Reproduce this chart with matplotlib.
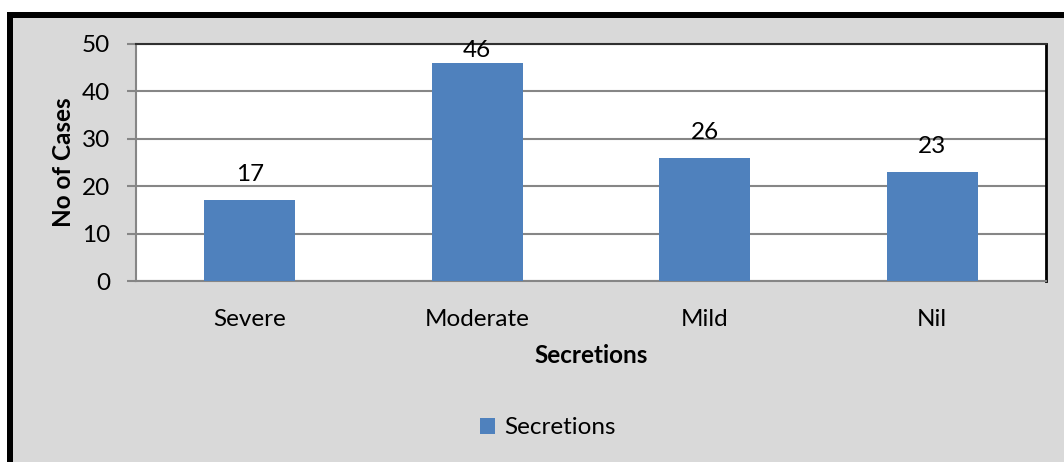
import matplotlib
matplotlib.use("Agg")
import matplotlib.pyplot as plt
from matplotlib.patches import Rectangle

categories = ["Severe", "Moderate", "Mild", "Nil"]
values = [17, 46, 26, 23]
series_name = "Secretions"
yticks = [0, 10, 20, 30, 40, 50]

plt.rcParams['font.family'] = ['Lato', 'DejaVu Sans']
FS = 17.5

W, H = 1064, 462
fig = plt.figure(figsize=(W/100, H/100), dpi=100)
fig.patch.set_facecolor('white')

# outer black frame + grey chart area
fig.patches.append(Rectangle((7/W, 0), (W-7)/W, (H-12)/H, transform=fig.transFigure,
                             facecolor='black', edgecolor='none', zorder=-10))
fig.patches.append(Rectangle((12.5/W, 0), (W-12.5)/W, (H-17.5)/H, transform=fig.transFigure,
                             facecolor='#d9d9d9', edgecolor='none', zorder=-9))

ax = fig.add_axes([136/W, 1-281/H, (1046-136)/W, (281-44)/H])
ax.set_facecolor('white')
x = list(range(len(categories)))
bars = ax.bar(x, values, width=0.4, color='#4f81bd', label=series_name, zorder=3)
ax.set_xlim(-0.5, len(categories)-0.5)
ymax = 50
ax.set_ylim(0, ymax)
ax.set_yticks(yticks)
ax.set_yticklabels([str(t) for t in yticks], fontsize=FS)
ax.set_xticks(x)
ax.set_xticklabels(categories, fontsize=FS)
ax.tick_params(axis='x', length=0, pad=20)
ax.tick_params(axis='y', length=6.5, color='#868686', width=1.5, pad=12)
ax.yaxis.grid(True, color='#868686', linewidth=1.5, zorder=1)
ax.set_axisbelow(True)
for s in ['left', 'bottom']:
    ax.spines[s].set_color('#868686')
    ax.spines[s].set_linewidth(1.5)
ax.spines['top'].set_color('#303030')
ax.spines['top'].set_linewidth(1.5)
ax.spines['right'].set_color('black')
ax.spines['right'].set_linewidth(2)

# data labels: above the bar, kept inside the plot top like Excel does
for xi, v in zip(x, values):
    ax.text(xi, min(v + 5.4, ymax - 1.3), str(v), ha='center', va='center',
            fontsize=FS, zorder=5, clip_on=False)

ax.set_xlabel(series_name, fontsize=FS, fontweight='bold', labelpad=10)
ax.set_ylabel("No of Cases", fontsize=FS, fontweight='bold', labelpad=5)

leg = fig.legend(handles=[bars], labels=[series_name], loc='center',
                 bbox_to_anchor=(548/W, 1-428/H), frameon=False, fontsize=FS,
                 handlelength=0.6, handleheight=0.6, handletextpad=0.4)

fig.savefig("out.png", dpi=100, facecolor=fig.get_facecolor())
